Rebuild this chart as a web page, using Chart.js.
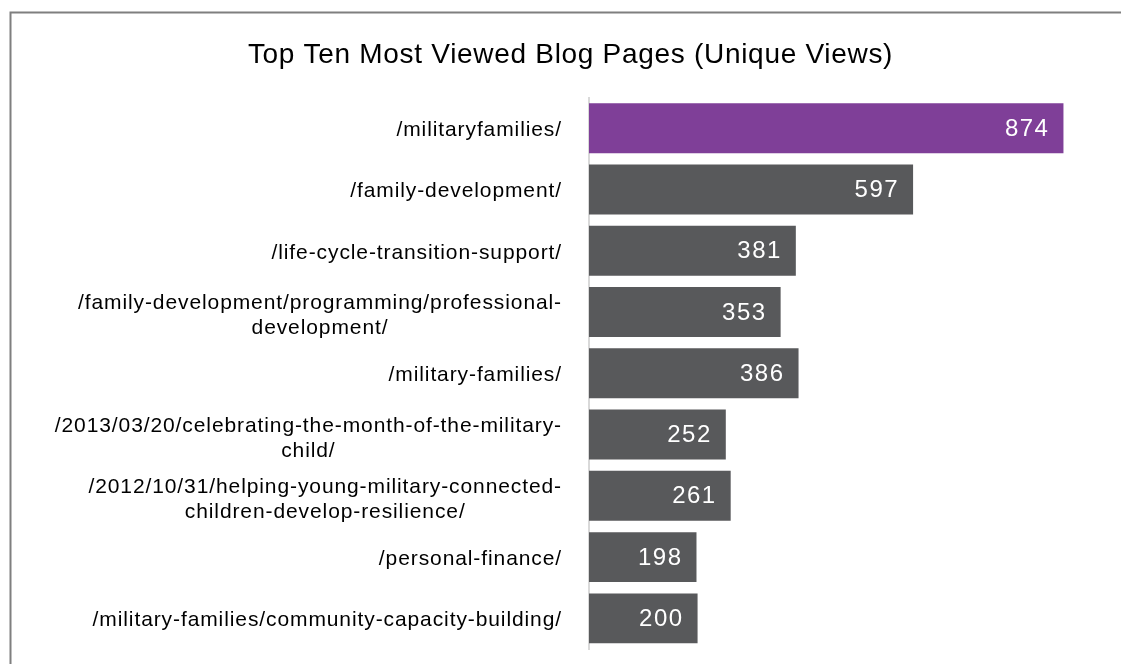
<!DOCTYPE html>
<html>
<head>
<meta charset="utf-8">
<script src="https://cdn.jsdelivr.net/npm/chart.js@4.4.1/dist/chart.umd.min.js"></script>
<style>
  html, body { margin: 0; padding: 0; background: #fff; }
</style>
</head>
<body>
<canvas id="blogChart" width="1121" height="664"></canvas>
<script>
// page paths (multi-line where the original wraps)
const pages = [
    ['/militaryfamilies/'],
    ['/family-development/'],
    ['/life-cycle-transition-support/'],
    ['/family-development/programming/professional-', 'development/'],
    ['/military-families/'],
    ['/2013/03/20/celebrating-the-month-of-the-military-', 'child/'],
    ['/2012/10/31/helping-young-military-connected-', 'children-develop-resilience/'],
    ['/personal-finance/'],
    ['/military-families/community-capacity-building/']
];
const uniqueViews = [874, 597, 381, 353, 386, 252, 261, 198, 200];
const barColors = ['#7f3f98', '#58595b', '#58595b', '#58595b', '#58595b', '#58595b', '#58595b', '#58595b', '#58595b'];

const FONT = "'Liberation Sans', Arial, sans-serif";

// frame, category labels and the value labels inside the bars
const decorations = {
    id: 'decorations',
    beforeDraw(chart) {
        const ctx = chart.ctx;
        ctx.save();
        ctx.strokeStyle = '#7f7f7f';
        ctx.lineWidth = 2;
        ctx.beginPath();
        ctx.moveTo(10.5, chart.height);
        ctx.lineTo(10.5, 12.5);
        ctx.lineTo(chart.width, 12.5);
        ctx.stroke();
        ctx.restore();
        // title is drawn a bit wider, like the original face
        ctx.letterSpacing = '0.7px';
    },
    afterDraw(chart) {
        const ctx = chart.ctx;
        const yScale = chart.scales.y;
        const right = chart.chartArea.left - 27;
        const lineH = 25;

        ctx.save();
        ctx.letterSpacing = '0.9px';
        ctx.font = '21px ' + FONT;
        ctx.fillStyle = '#000';
        ctx.textAlign = 'center';
        ctx.textBaseline = 'middle';
        pages.forEach((lines, i) => {
            const widest = Math.max(...lines.map(l => ctx.measureText(l).width));
            const cx = right - widest / 2;
            const cy = yScale.getPixelForValue(i) + (lines.length > 1 ? 4 : 2);
            const top = cy - (lines.length - 1) * lineH / 2;
            lines.forEach((l, j) => ctx.fillText(l, cx, top + j * lineH));
        });

        ctx.letterSpacing = '1.5px';
        ctx.font = '24px ' + FONT;
        ctx.fillStyle = '#fff';
        ctx.textAlign = 'right';
        chart.getDatasetMeta(0).data.forEach((bar, i) => {
            ctx.fillText(String(uniqueViews[i]), bar.x - 14, bar.y + 1);
        });
        ctx.restore();
        ctx.letterSpacing = '0px';
    }
};

new Chart(document.getElementById('blogChart').getContext('2d'), {
    type: 'bar',
    data: {
        labels: pages,
        datasets: [{
            label: 'Unique Views',
            data: uniqueViews,
            backgroundColor: barColors,
            borderWidth: 0,
            barPercentage: 0.815,
            categoryPercentage: 1
        }]
    },
    options: {
        indexAxis: 'y',
        responsive: false,
        animation: false,
        layout: { padding: { left: 20, right: 0, top: 0, bottom: 15 } },
        scales: {
            x: { display: false, min: 0, max: 980 },
            y: {
                grid: { display: false, drawTicks: false },
                ticks: { display: false },
                border: { display: true, color: '#d9d9d9', width: 2 },
                afterFit(scale) { scale.width = 569; }
            }
        },
        plugins: {
            legend: { display: false },
            tooltip: { enabled: false },
            title: {
                display: true,
                text: 'Top Ten Most Viewed Blog Pages (Unique Views)',
                color: '#000',
                font: { family: FONT, size: 28, weight: 'normal', lineHeight: 1.2 },
                padding: { top: 38, bottom: 26 }
            }
        }
    },
    plugins: [decorations]
});
</script>
</body>
</html>
